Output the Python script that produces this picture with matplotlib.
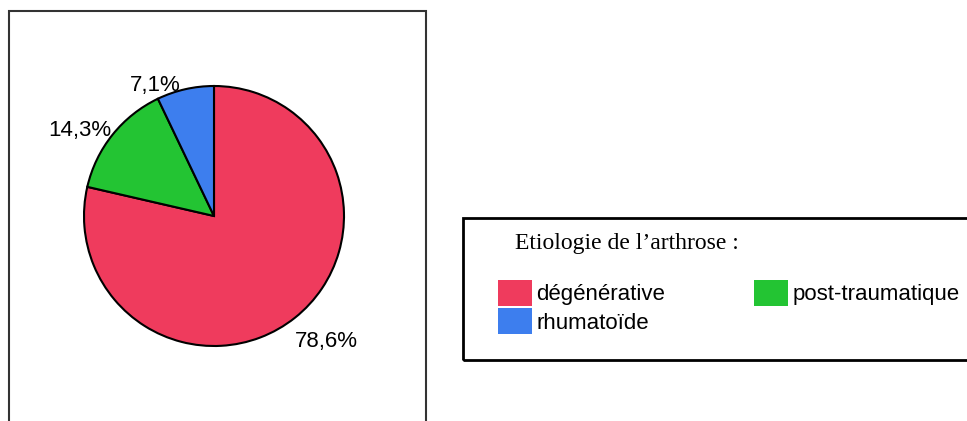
import matplotlib.pyplot as plt
from matplotlib.patches import Rectangle, Patch

categories = ["dégénérative", "post-traumatique", "rhumatoïde"]
values = [78.6, 14.3, 7.1]
colors = ["#EF3B5D", "#23C433", "#3D7EEE"]
legend_title = "Etiologie de l\u2019arthrose :"

W, H = 967, 421
fig = plt.figure(figsize=(W / 100, H / 100), dpi=100)
ax = fig.add_axes([0, 0, 1, 1])
ax.set_xlim(0, W)
ax.set_ylim(0, H)
ax.set_aspect("equal")
ax.axis("off")

# frame around the pie
ax.add_patch(Rectangle((9, -5), 417, H - 11 + 5, fill=False, edgecolor="#333333", lw=1.5))

wedges, texts, autotexts = ax.pie(
    values, colors=colors, startangle=90, counterclock=False,
    center=(214, H - 216), radius=130,
    wedgeprops=dict(edgecolor="black", linewidth=1.5),
    autopct=lambda p: f"{p:.1f}%".replace(".", ","), pctdistance=1.17,
    textprops=dict(fontsize=16, family="Liberation Sans"),
)
ax.set_xlim(0, W)
ax.set_ylim(0, H)
# nudge labels to where the original puts them
nudges = [(18, -6), (-15, -10), (-25, -18)]
for t, (dx, dy) in zip(autotexts, nudges):
    x, y = t.get_position()
    t.set_position((x + dx, y + dy))

# legend box
ax.add_patch(Rectangle((463, H - 360), 520, 142, fill=False, edgecolor="black", lw=2))
ax.text(515, H - 244, legend_title, fontsize=17, family="Liberation Serif",
        va="center", ha="left")

order = [0, 2, 1]
handles = [Patch(facecolor=colors[i], edgecolor="none") for i in order]
labels = [categories[i] for i in order]
fig.legend(handles, labels, ncol=2, frameon=False,
           loc="upper left", bbox_to_anchor=(498 / W, 1 - 280 / H),
           borderpad=0, borderaxespad=0,
           prop=dict(family="Liberation Sans", size=16),
           handlelength=1.55, handleheight=1.4, handletextpad=0.17,
           columnspacing=4.0, labelspacing=0.12)

fig.savefig("out.png", dpi=100)
